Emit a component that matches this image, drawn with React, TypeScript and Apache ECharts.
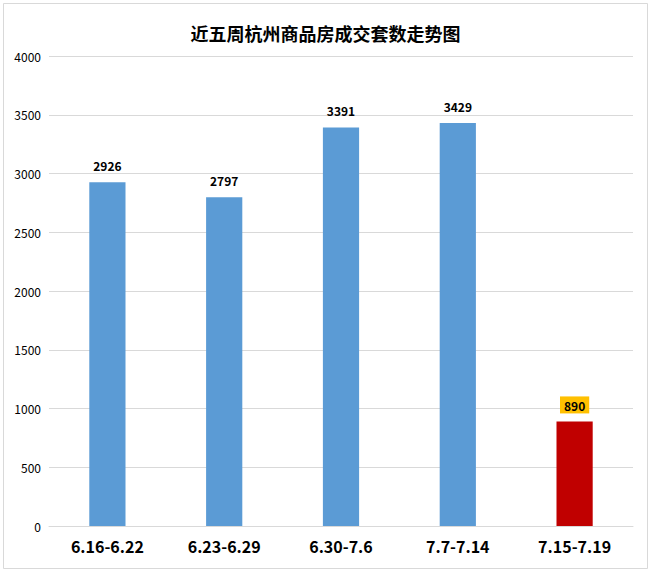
import { useEffect, useRef } from "react";
import * as echarts from "echarts";

const weeks = ["6.16-6.22", "6.23-6.29", "6.30-7.6", "7.7-7.14", "7.15-7.19"];
const deals = [2926, 2797, 3391, 3429, 890];
const highlightIndex = 4;

const font = "'Noto Sans CJK SC', 'Microsoft YaHei', sans-serif";

export default function App(): JSX.Element {
  const chartRef = useRef<HTMLDivElement>(null);

  useEffect(() => {
    document.body.style.margin = "0";
    const myChart = echarts.init(chartRef.current, null, { renderer: "svg" });
    const option = {
      animation: false,
      backgroundColor: "#ffffff",
      title: {
        text: "近五周杭州商品房成交套数走势图",
        left: "center",
        top: 19,
        textStyle: { fontFamily: font, fontSize: 18, fontWeight: "bold", color: "#000" },
      },
      graphic: [
        {
          type: "rect",
          shape: { x: 3.5, y: 3.5, width: 644, height: 565 },
          style: { fill: "none", stroke: "#D9D9D9", lineWidth: 1 },
          silent: true,
        },
      ],
      grid: { left: 49, right: 18, top: 56, bottom: 46 },
      xAxis: {
        type: "category",
        data: weeks,
        axisTick: { show: false },
        axisLine: { lineStyle: { color: "#D9D9D9" } },
        axisLabel: {
          fontFamily: font,
          fontSize: 16,
          fontWeight: "bold",
          color: "#000",
          margin: 12,
        },
      },
      yAxis: {
        type: "value",
        min: 0,
        max: 4000,
        interval: 500,
        axisLine: { show: false },
        axisTick: { show: false },
        splitLine: { lineStyle: { color: "#D9D9D9" } },
        axisLabel: {
          fontFamily: font,
          fontSize: 12,
          color: "#000",
          margin: 8,
          formatter: (v: number) => String(v),
        },
      },
      series: [
        {
          type: "bar",
          barWidth: "31%",
          data: deals.map((v, i) =>
            i === highlightIndex
              ? {
                  value: v,
                  itemStyle: { color: "#C00000" },
                  label: {
                    backgroundColor: "#FFC000",
                    padding: [3, 4, 2, 4],
                    distance: 8,
                  },
                }
              : v
          ),
          itemStyle: { color: "#5B9BD5" },
          label: {
            show: true,
            position: "top",
            distance: 11,
            fontFamily: font,
            fontSize: 12,
            fontWeight: "bold",
            color: "#000",
          },
        },
      ],
    };
    myChart.setOption(option);
    return () => {
      myChart.dispose();
    };
  }, []);

  return <div ref={chartRef} style={{ width: 651, height: 572 }}></div>;
}
